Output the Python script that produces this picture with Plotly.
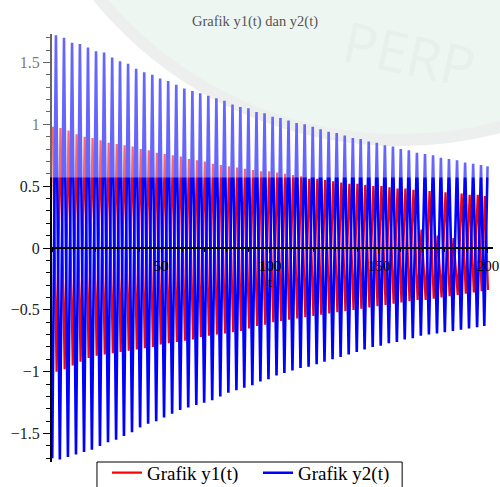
import plotly.graph_objects as go

title_text = "Grafik y1(t) dan y2(t)"
series_names = ["Grafik y1(t)", "Grafik y2(t)"]
x_tick_vals = [50, 100, 150, 200]

# ---- y2(t): trough / peak sample times and values ----
t2_lo = [0.1, 3.6, 7.3, 11.0, 14.7, 18.3, 22.0, 25.7, 29.4, 33.0,
         36.7, 40.4, 44.1, 47.8, 51.4, 55.1, 58.8, 62.5, 66.2, 69.8,
         73.5, 77.2, 80.9, 84.6, 88.2, 91.9, 95.6, 99.3, 103.0, 106.6,
         110.3, 114.0, 117.7, 121.4, 125.0, 128.7, 132.4, 136.1, 139.8, 143.4,
         147.1, 150.8, 154.5, 158.2, 161.8, 165.5, 169.2, 172.9, 176.6, 180.2,
         183.9, 187.6, 191.3, 195.0, 198.3]
t2_hi = [1.8, 5.5, 9.2, 12.8, 16.5, 20.2, 23.9, 27.6, 31.2, 34.9,
         38.6, 42.3, 46.0, 49.6, 53.3, 57.0, 60.7, 64.4, 68.0, 71.7,
         75.4, 79.1, 82.8, 86.4, 90.1, 93.8, 97.5, 101.2, 104.8, 108.5,
         112.2, 115.9, 119.6, 123.2, 126.9, 130.6, 134.3, 138.0, 141.6, 145.3,
         149.0, 152.7, 156.4, 160.0, 163.7, 167.4, 171.1, 174.8, 178.4, 182.1,
         185.8, 189.5, 193.2, 196.8, 199.8]
y2_hi = [1.72, 1.70, 1.66, 1.65, 1.62, 1.59, 1.58, 1.54, 1.51, 1.49,
         1.45, 1.42, 1.40, 1.37, 1.35, 1.32, 1.29, 1.27, 1.25, 1.23,
         1.21, 1.19, 1.16, 1.14, 1.13, 1.10, 1.09, 1.06, 1.05, 1.03,
         1.01, 1.00, 0.98, 0.96, 0.94, 0.93, 0.91, 0.89, 0.88, 0.86,
         0.85, 0.83, 0.82, 0.80, 0.79, 0.77, 0.76, 0.75, 0.73, 0.72,
         0.71, 0.69, 0.68, 0.67, 0.66]
y2_lo = [-1.70, -1.71, -1.69, -1.67, -1.65, -1.63, -1.60, -1.57, -1.55, -1.52,
         -1.49, -1.45, -1.42, -1.40, -1.37, -1.34, -1.31, -1.29, -1.27, -1.25,
         -1.23, -1.20, -1.17, -1.15, -1.13, -1.11, -1.08, -1.06, -1.03, -1.01,
         -0.99, -0.97, -0.96, -0.94, -0.92, -0.90, -0.88, -0.86, -0.84, -0.82,
         -0.80, -0.79, -0.77, -0.76, -0.74, -0.73, -0.71, -0.70, -0.69, -0.68,
         -0.67, -0.66, -0.65, -0.64, -0.63]

# ---- y1(t): peak / trough sample times and values ----
t1_hi = [0.4, 3.9, 7.6, 11.3, 15.0, 18.6, 22.3, 26.0, 29.7, 33.3,
         37.0, 40.7, 44.4, 48.1, 51.7, 55.4, 59.1, 62.8, 66.5, 70.1,
         73.8, 77.5, 81.2, 84.9, 88.5, 92.2, 95.9, 99.6, 103.3, 106.9,
         110.6, 114.3, 118.0, 121.7, 125.3, 129.0, 132.7, 136.4, 140.1, 143.7,
         147.4, 151.1, 154.8, 158.5, 162.1, 165.8, 169.5, 173.2, 176.9, 180.5,
         184.2, 187.9, 191.6, 195.3, 198.6]
t1_lo = [2.1, 5.8, 9.5, 13.1, 16.8, 20.5, 24.2, 27.9, 31.5, 35.2,
         38.9, 42.6, 46.3, 49.9, 53.6, 57.3, 61.0, 64.7, 68.3, 72.0,
         75.7, 79.4, 83.1, 86.7, 90.4, 94.1, 97.8, 101.5, 105.1, 108.8,
         112.5, 116.2, 119.9, 123.5, 127.2, 130.9, 134.6, 138.3, 141.9, 145.6,
         149.3, 153.0, 156.7, 160.3, 164.0, 167.7, 171.4, 175.1, 178.7, 182.4,
         186.1, 189.8, 193.5, 197.1, 200.0]
y1_hi = [0.98, 0.97, 0.95, 0.92, 0.90, 0.89, 0.87, 0.85, 0.84, 0.83,
         0.82, 0.80, 0.79, 0.77, 0.76, 0.75, 0.74, 0.72, 0.71, 0.70,
         0.68, 0.67, 0.66, 0.65, 0.64, 0.63, 0.62, 0.62, 0.61, 0.60,
         0.59, 0.58, 0.56, 0.56, 0.55, 0.54, 0.53, 0.52, 0.52, 0.51,
         0.50, 0.50, 0.49, 0.48, 0.48, 0.47, 0.15, 0.46, 0.10, 0.45,
         0.08, 0.44, 0.43, 0.43, 0.42]
y1_lo = [-1.00, -0.98, -0.95, -0.92, -0.89, -0.87, -0.86, -0.85, -0.84, -0.83,
         -0.82, -0.81, -0.80, -0.78, -0.77, -0.76, -0.75, -0.74, -0.72, -0.71,
         -0.70, -0.69, -0.68, -0.67, -0.65, -0.63, -0.62, -0.60, -0.59, -0.58,
         -0.57, -0.56, -0.55, -0.54, -0.53, -0.52, -0.51, -0.50, -0.49, -0.48,
         -0.47, -0.46, -0.45, -0.44, -0.43, -0.42, -0.42, -0.41, -0.40, -0.39,
         -0.38, -0.37, -0.36, -0.35, -0.34]


def interleave(ta, ya, tb, yb):
    xs, ys = [], []
    for a, b, c, d in zip(ta, ya, tb, yb):
        xs += [a, c]
        ys += [b, d]
    return xs, ys


x1, y1 = interleave(t1_hi, y1_hi, t1_lo, y1_lo)
x2, y2 = interleave(t2_lo, y2_lo, t2_hi, y2_hi)

SERIF = "Liberation Serif, Times New Roman, serif"

fig = go.Figure()
fig.add_trace(go.Scatter(x=x1, y=y1, mode="lines", name=series_names[0],
                         line=dict(color="#ff0000", width=2.2)))
fig.add_trace(go.Scatter(x=x2, y=y2, mode="lines", name=series_names[1],
                         line=dict(color="#0000ff", width=2.6)))

fig.update_layout(
    width=500, height=487,
    margin=dict(l=52, r=7, t=34, b=25, pad=0, autoexpand=False),
    paper_bgcolor="white",
    plot_bgcolor="rgba(0,0,0,0)",
    title=dict(text=title_text, x=0.51, xref="container", xanchor="center",
               y=0.958, yref="container", yanchor="middle",
               font=dict(family=SERIF, size=14.5, color="#555555")),
    showlegend=True,
    legend=dict(orientation="h", x=0.1247, xanchor="left", y=0.019, yanchor="top",
                bgcolor="rgba(0,0,0,0)", borderwidth=0,
                font=dict(family=SERIF, size=19, color="black"),
                itemwidth=30, entrywidth=106, tracegroupgap=0),
    xaxis=dict(range=[0, 202.3], anchor="free", position=0.5,
               showline=True, linecolor="black", linewidth=1.5,
               showgrid=False, zeroline=False,
               tickmode="array", tickvals=x_tick_vals,
               ticks="outside", ticklen=4, tickcolor="black",
               minor=dict(dtick=10, ticks="outside", ticklen=3, tickcolor="black"),
               tickfont=dict(family=SERIF, size=15, color="black")),
    yaxis=dict(range=[-1.73, 1.73], showline=True, linecolor="black", linewidth=2,
               showgrid=False, zeroline=False,
               tick0=0, dtick=0.5, ticks="outside", ticklen=7, tickcolor="black",
               minor=dict(dtick=0.1, ticks="outside", ticklen=4, tickcolor="black"),
               tickfont=dict(family=SERIF, size=16, color="#222222")),
    shapes=[
        # pale watermark disc behind the plot
        dict(type="circle", xref="paper", yref="paper", layer="below",
             x0=-0.095, x1=1.673, y0=0.752, y1=2.575,
             fillcolor="#e2f0e7", line=dict(color="#e2e4e3", width=12)),
        # translucent white watermark band over the upper part
        dict(type="rect", xref="paper", yref="paper", layer="above",
             x0=-0.2, x1=1.1, y0=0.6647, y1=1.2,
             fillcolor="white", opacity=0.4, line=dict(width=0)),
        # legend frame
        dict(type="rect", xref="paper", yref="paper", layer="above",
             x0=0.102, x1=0.794, y0=-0.08, y1=0.0,
             fillcolor="white", line=dict(color="black", width=1)),
    ],
    annotations=[
        dict(text="PERP", xref="paper", yref="paper", x=0.81, y=0.955,
             xanchor="center", yanchor="middle",
             showarrow=False, textangle=12,
             font=dict(family="Open Sans, sans-serif", size=56,
                       color="rgba(210,190,190,0.13)")),
        dict(text="t", x=100, y=-0.28, xref="x", yref="y", showarrow=False,
             font=dict(family=SERIF, size=14, color="black")),
    ],
)

fig.write_html("out.html")
